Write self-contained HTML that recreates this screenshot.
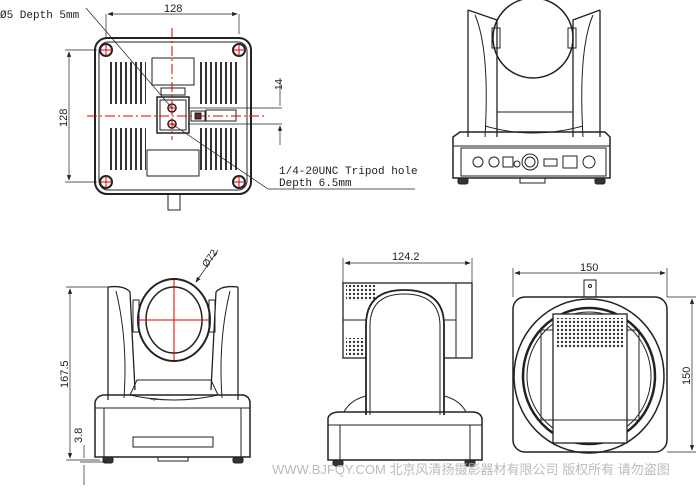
<!DOCTYPE html>
<html><head><meta charset="utf-8"><style>
html,body{margin:0;padding:0;background:#fff}
svg{display:block}
text{font-family:"Liberation Sans","Noto Sans CJK SC",sans-serif;fill:#222}
.m{font-family:"Liberation Mono",monospace}
</style></head><body>
<svg width="700" height="490" viewBox="0 0 700 490" xmlns="http://www.w3.org/2000/svg">
<defs>
<pattern id="vent" width="5" height="42" patternUnits="userSpaceOnUse"><rect x="0" y="0" width="2" height="42" fill="#333"/></pattern>
<pattern id="dots" width="4" height="4" patternUnits="userSpaceOnUse"><circle cx="2" cy="2" r="1.2" fill="#333"/></pattern>
<marker id="a" markerWidth="8" markerHeight="6" refX="7" refY="3" orient="auto-start-reverse"><path d="M0,0L8,3L0,6z" fill="#222"/></marker>
</defs>
<g fill="none" stroke="#222" stroke-width="1">
<!-- TOP LEFT bottom view -->
<rect x="95" y="38" width="156" height="156" rx="12" stroke-width="2"/>
<rect x="99" y="42" width="148" height="148" rx="9"/>
<rect x="110" y="62" width="36" height="42" fill="url(#vent)" stroke="none"/>
<rect x="200" y="62" width="37" height="42" fill="url(#vent)" stroke="none"/>
<rect x="110" y="128" width="36" height="42" fill="url(#vent)" stroke="none"/>
<rect x="200" y="128" width="37" height="42" fill="url(#vent)" stroke="none"/>
<rect x="152" y="58" width="42" height="27"/>
<rect x="161" y="88" width="24" height="7"/>
<rect x="157" y="97" width="32" height="36" stroke-width="1.5"/>
<rect x="160" y="100" width="26" height="30"/>
<rect x="191" y="111" width="14" height="10"/>
<rect x="195" y="113" width="6" height="6" fill="#333"/>
<rect x="206" y="110" width="30" height="11"/>
<rect x="147" y="150" width="52" height="26"/>
<rect x="168" y="194" width="12" height="16"/>
<circle cx="106" cy="50" r="6" stroke-width="2"/><circle cx="239" cy="50" r="6" stroke-width="2"/>
<circle cx="106" cy="182" r="6" stroke-width="2"/><circle cx="239" cy="182" r="6" stroke-width="2"/>
<circle cx="172" cy="108" r="4" stroke-width="1.5"/><circle cx="172" cy="124" r="4" stroke-width="1.5"/>
<g stroke="#d00" stroke-width="1">
<path d="M87 116H265" stroke-dasharray="10 3 2 3"/><path d="M172 28V140" stroke-dasharray="10 3 2 3"/>
<path d="M100 50h12M106 44v12M233 50h12M239 44v12M100 182h12M106 176v12M233 182h12M239 176v12M167 108h10M172 103v10M167 124h10M172 119v10"/>
</g>
<!-- dims -->
<path d="M106 14V38M239 14V34" stroke-width="0.7"/>
<path d="M108 14H237" marker-start="url(#a)" marker-end="url(#a)" stroke-width="0.7"/>
<path d="M65 50H97M65 182H97" stroke-width="0.7"/>
<path d="M69 52V180" marker-start="url(#a)" marker-end="url(#a)" stroke-width="0.7"/>
<path d="M188 108H282M188 124H282" stroke-width="0.7"/>
<path d="M280 78V106M280 145V126" marker-end="url(#a)" stroke-width="0.7"/>
<path d="M86 8L172 108" stroke-width="0.7"/>
<path d="M172 124L268 189H415" stroke-width="0.7"/>
<!-- TOP RIGHT rear view -->
<path d="M468 10L497 20V137M468 10V137M600 10L573 20V137M600 10V137" stroke-width="1.3"/>
<path d="M475 15Q490 50 485 137M593 15Q578 50 583 137"/>
<rect x="492" y="28" width="8" height="20"/><rect x="568" y="28" width="8" height="20"/>
<circle cx="533" cy="38" r="40" stroke-width="1.5"/>
<path d="M497 112H573M485 126Q533 140 583 126"/>
<path d="M453 137L460 132H605L610 137V178H453Z" stroke-width="1.5"/>
<path d="M453 146H610"/><rect x="461" y="148" width="145" height="28"/>
<circle cx="478" cy="162" r="5"/><circle cx="494" cy="162" r="5"/>
<rect x="503" y="157" width="10" height="10"/><circle cx="517" cy="164" r="3"/>
<circle cx="530" cy="162" r="8"/><circle cx="530" cy="162" r="5"/>
<rect x="544" y="159" width="13" height="7"/><rect x="563" y="156" width="14" height="12"/>
<circle cx="589" cy="162" r="6"/>
<path d="M520 178v5h25v-5" />
<rect x="458" y="178" width="10" height="6" rx="2" fill="#333"/><rect x="595" y="178" width="10" height="6" rx="2" fill="#333"/>
<!-- BOTTOM LEFT front view -->
<path d="M108 287Q124 285 130 292L135 390M108 287V400M238 287Q222 285 216 292L211 390M238 287V400" stroke-width="1.3"/>
<path d="M116 291Q128 340 124 398M230 291Q218 340 222 398"/>
<ellipse cx="174" cy="320" rx="36" ry="41" stroke-width="2"/>
<ellipse cx="174" cy="320" rx="28" ry="33" stroke-width="1.5"/>
<rect x="133" y="300" width="6" height="32"/><rect x="209" y="300" width="6" height="32"/>
<path d="M138 320H210M174 280V360" stroke="#d00"/>
<path d="M137 380H211L218 395Q174 405 130 395Z"/>
<path d="M95 402Q97 396 103 395H243Q249 396 250 402V457H95Z" stroke-width="1.5"/>
<path d="M95 408H250M104 408V457M241 408V457"/>
<rect x="133" y="437" width="80" height="10"/>
<rect x="103" y="457" width="10" height="6" rx="2" fill="#333"/><rect x="233" y="457" width="10" height="6" rx="2" fill="#333"/>
<path d="M158 457v4h30v-4"/>
<path d="M66 287H108M66 460H100" stroke-width="0.7"/>
<path d="M70 289V458" marker-start="url(#a)" marker-end="url(#a)" stroke-width="0.7"/>
<path d="M84 445V458M84 465V485M80 462H108" stroke-width="0.7"/>
<path d="M196 282L218 250" stroke-width="0.7" marker-start="url(#a)"/>
<!-- BOTTOM MIDDLE side view -->
<rect x="343" y="283" width="129" height="75" stroke-width="1.3"/>
<path d="M343 320H456M456 283V358"/>
<rect x="346" y="285" width="30" height="16" fill="url(#dots)" stroke="none"/>
<rect x="346" y="338" width="18" height="18" fill="url(#dots)" stroke="none"/>
<path d="M366 415V325Q366 290 404 290Q444 290 444 325V415" fill="#fff" stroke-width="1.8"/>
<path d="M370 415V326Q370 294 404 294Q440 294 440 326V415"/>
<path d="M344 412Q350 400 366 396M466 412Q460 400 444 396"/>
<path d="M328 418Q330 412 340 412H472Q480 412 482 418V460H328Z" stroke-width="1.5"/>
<path d="M328 425H482M340 425V460M470 425V460"/>
<rect x="333" y="460" width="10" height="6" rx="2" fill="#333"/><rect x="465" y="460" width="10" height="6" rx="2" fill="#333"/>
<path d="M343 258V283M472 258V283" stroke-width="0.7"/>
<path d="M345 263H470" marker-start="url(#a)" marker-end="url(#a)" stroke-width="0.7"/>
<!-- BOTTOM RIGHT top view -->
<rect x="513" y="297" width="154" height="155" rx="12" stroke-width="1.5"/>
<ellipse cx="589" cy="376" rx="75" ry="77" stroke-width="1.5"/>
<ellipse cx="589" cy="376" rx="66" ry="68" stroke-width="2.5"/>
<ellipse cx="589" cy="376" rx="62" ry="64"/>
<rect x="541" y="330" width="12" height="90"/><rect x="627" y="330" width="12" height="90"/>
<rect x="553" y="314" width="74" height="129" fill="#fff" stroke-width="1.3"/>
<rect x="557" y="318" width="66" height="30" fill="url(#dots)" stroke="none"/>
<path d="M553 420H627"/>
<rect x="584" y="280" width="12" height="17"/><circle cx="590" cy="286" r="1.5"/>
<path d="M513 268V297M667 268V297M667 297H696M667 452H696" stroke-width="0.7"/>
<path d="M515 273H665" marker-start="url(#a)" marker-end="url(#a)" stroke-width="0.7"/>
<path d="M692 299V450" marker-start="url(#a)" marker-end="url(#a)" stroke-width="0.7"/>
</g>
<text class="m" x="0" y="18" font-size="11">Ø5 Depth 5mm</text>
<text x="164" y="12" font-size="11">128</text>
<text x="0" y="0" font-size="11" transform="translate(67,127) rotate(-90)">128</text>
<text x="0" y="0" font-size="10" transform="translate(282,90) rotate(-90)">14</text>
<text class="m" x="279" y="174" font-size="11">1/4-20UNC Tripod hole</text>
<text class="m" x="279" y="186" font-size="11">Depth 6.5mm</text>
<text x="0" y="0" font-size="11" transform="translate(68,388) rotate(-90)">167.5</text>
<text x="0" y="0" font-size="11" transform="translate(82,443) rotate(-90)">3.8</text>
<text x="0" y="0" font-size="10" transform="translate(207,268) rotate(-55)">Ø72</text>
<text x="392" y="260" font-size="11">124.2</text>
<text x="580" y="271" font-size="11">150</text>
<text x="0" y="0" font-size="11" transform="translate(690,385) rotate(-90)">150</text>
<text x="150" y="400" font-size="4">logo</text>
<text x="272" y="474" font-size="13" style="fill:#bbb">WWW.BJFQY.COM 北京风清扬摄影器材有限公司 版权所有 请勿盗图</text>
</svg>
</body></html>
